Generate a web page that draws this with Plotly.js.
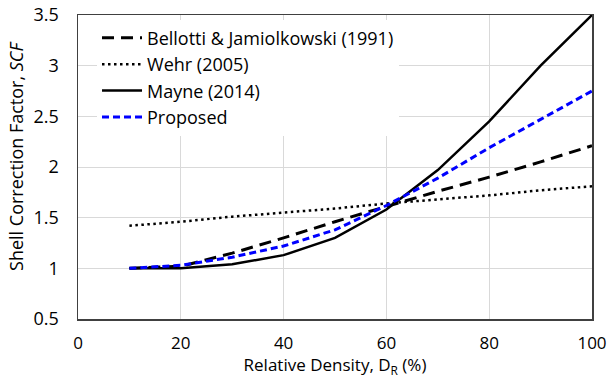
<!DOCTYPE html>
<html>
<head>
<meta charset="utf-8">
<script src="https://cdn.plot.ly/plotly-3.0.1.min.js"></script>
<style>html,body{margin:0;padding:0;background:#fff;}#chart{width:609px;height:378px;}</style>
</head>
<body>
<div id="chart"></div>
<script>
const relDensity = [10, 20, 30, 40, 50, 60, 70, 80, 90, 100];
const bellotti = [1.00, 1.02, 1.15, 1.30, 1.46, 1.61, 1.76, 1.90, 2.05, 2.21];
const wehr = [1.42, 1.46, 1.51, 1.55, 1.59, 1.64, 1.68, 1.72, 1.77, 1.81];
const mayne = [1.00, 1.00, 1.04, 1.13, 1.30, 1.58, 1.97, 2.45, 3.00, 3.50];
const proposed = [1.00, 1.03, 1.11, 1.22, 1.38, 1.62, 1.89, 2.19, 2.47, 2.75];
const seriesNames = ["Bellotti &amp; Jamiolkowski (1991)", "Wehr (2005)", "Mayne (2014)", "Proposed"];
const xTicks = [0, 20, 40, 60, 80, 100];
const yTicks = [0.5, 1, 1.5, 2, 2.5, 3, 3.5];
const xTitle = "Relative Density, D<sub>R</sub> (%)";
const yTitle = "Shell Correction Factor, <i>SCF</i>";

const FONT = "Open Sans, Liberation Sans, sans-serif";
const FS = 18;

const traces = [
  {x: relDensity, y: bellotti, name: seriesNames[0], mode: "lines",
   line: {color: "#000000", width: 3, dash: "12px,7px"}},
  {x: relDensity, y: wehr, name: seriesNames[1], mode: "lines",
   line: {color: "#000000", width: 2.5, dash: "2.5px,3.5px"}},
  {x: relDensity, y: mayne, name: seriesNames[2], mode: "lines",
   line: {color: "#000000", width: 2.5}},
  {x: relDensity, y: proposed, name: seriesNames[3], mode: "lines",
   line: {color: "#0000ff", width: 3, dash: "7px,4px"}}
];

const layout = {
  width: 609, height: 378,
  margin: {l: 78, r: 17, t: 15, b: 59},
  paper_bgcolor: "#ffffff", plot_bgcolor: "#ffffff",
  font: {family: FONT, size: FS, color: "#000000"},
  showlegend: true,
  legend: {x: 0.037, y: 0.985, xanchor: "left", yanchor: "top",
           bgcolor: "#ffffff", borderwidth: 0,
           font: {family: FONT, size: FS, color: "#000000"},
           tracegroupgap: 0, itemwidth: 40},
  xaxis: {
    range: [0, 100], tickvals: xTicks, ticktext: xTicks.map(String),
    showgrid: true, gridcolor: "#d9d9d9", gridwidth: 1,
    showline: true, linecolor: "#404040", linewidth: 1.5, mirror: true,
    ticks: "", zeroline: false, ticklabelstandoff: 8,
    tickfont: {family: FONT, size: 17, color: "#000000"},
    title: {text: xTitle, standoff: 4,
            font: {family: FONT, size: 17, color: "#000000"}}
  },
  yaxis: {
    range: [0.5, 3.5], tickvals: yTicks, ticktext: yTicks.map(String),
    showgrid: true, gridcolor: "#d9d9d9", gridwidth: 1,
    showline: true, linecolor: "#404040", linewidth: 1.5, mirror: true,
    ticks: "", zeroline: false, ticklabelstandoff: 14,
    tickfont: {family: FONT, size: FS, color: "#000000"}
  },
  annotations: [{
    text: yTitle, textangle: -90, showarrow: false,
    xref: "paper", yref: "paper", x: 0, y: 0.533,
    xanchor: "center", yanchor: "middle", xshift: -62,
    font: {family: FONT, size: FS, color: "#000000"}
  }]
};

Plotly.newPlot("chart", traces, layout, {displayModeBar: false, staticPlot: true});
</script>
</body>
</html>
